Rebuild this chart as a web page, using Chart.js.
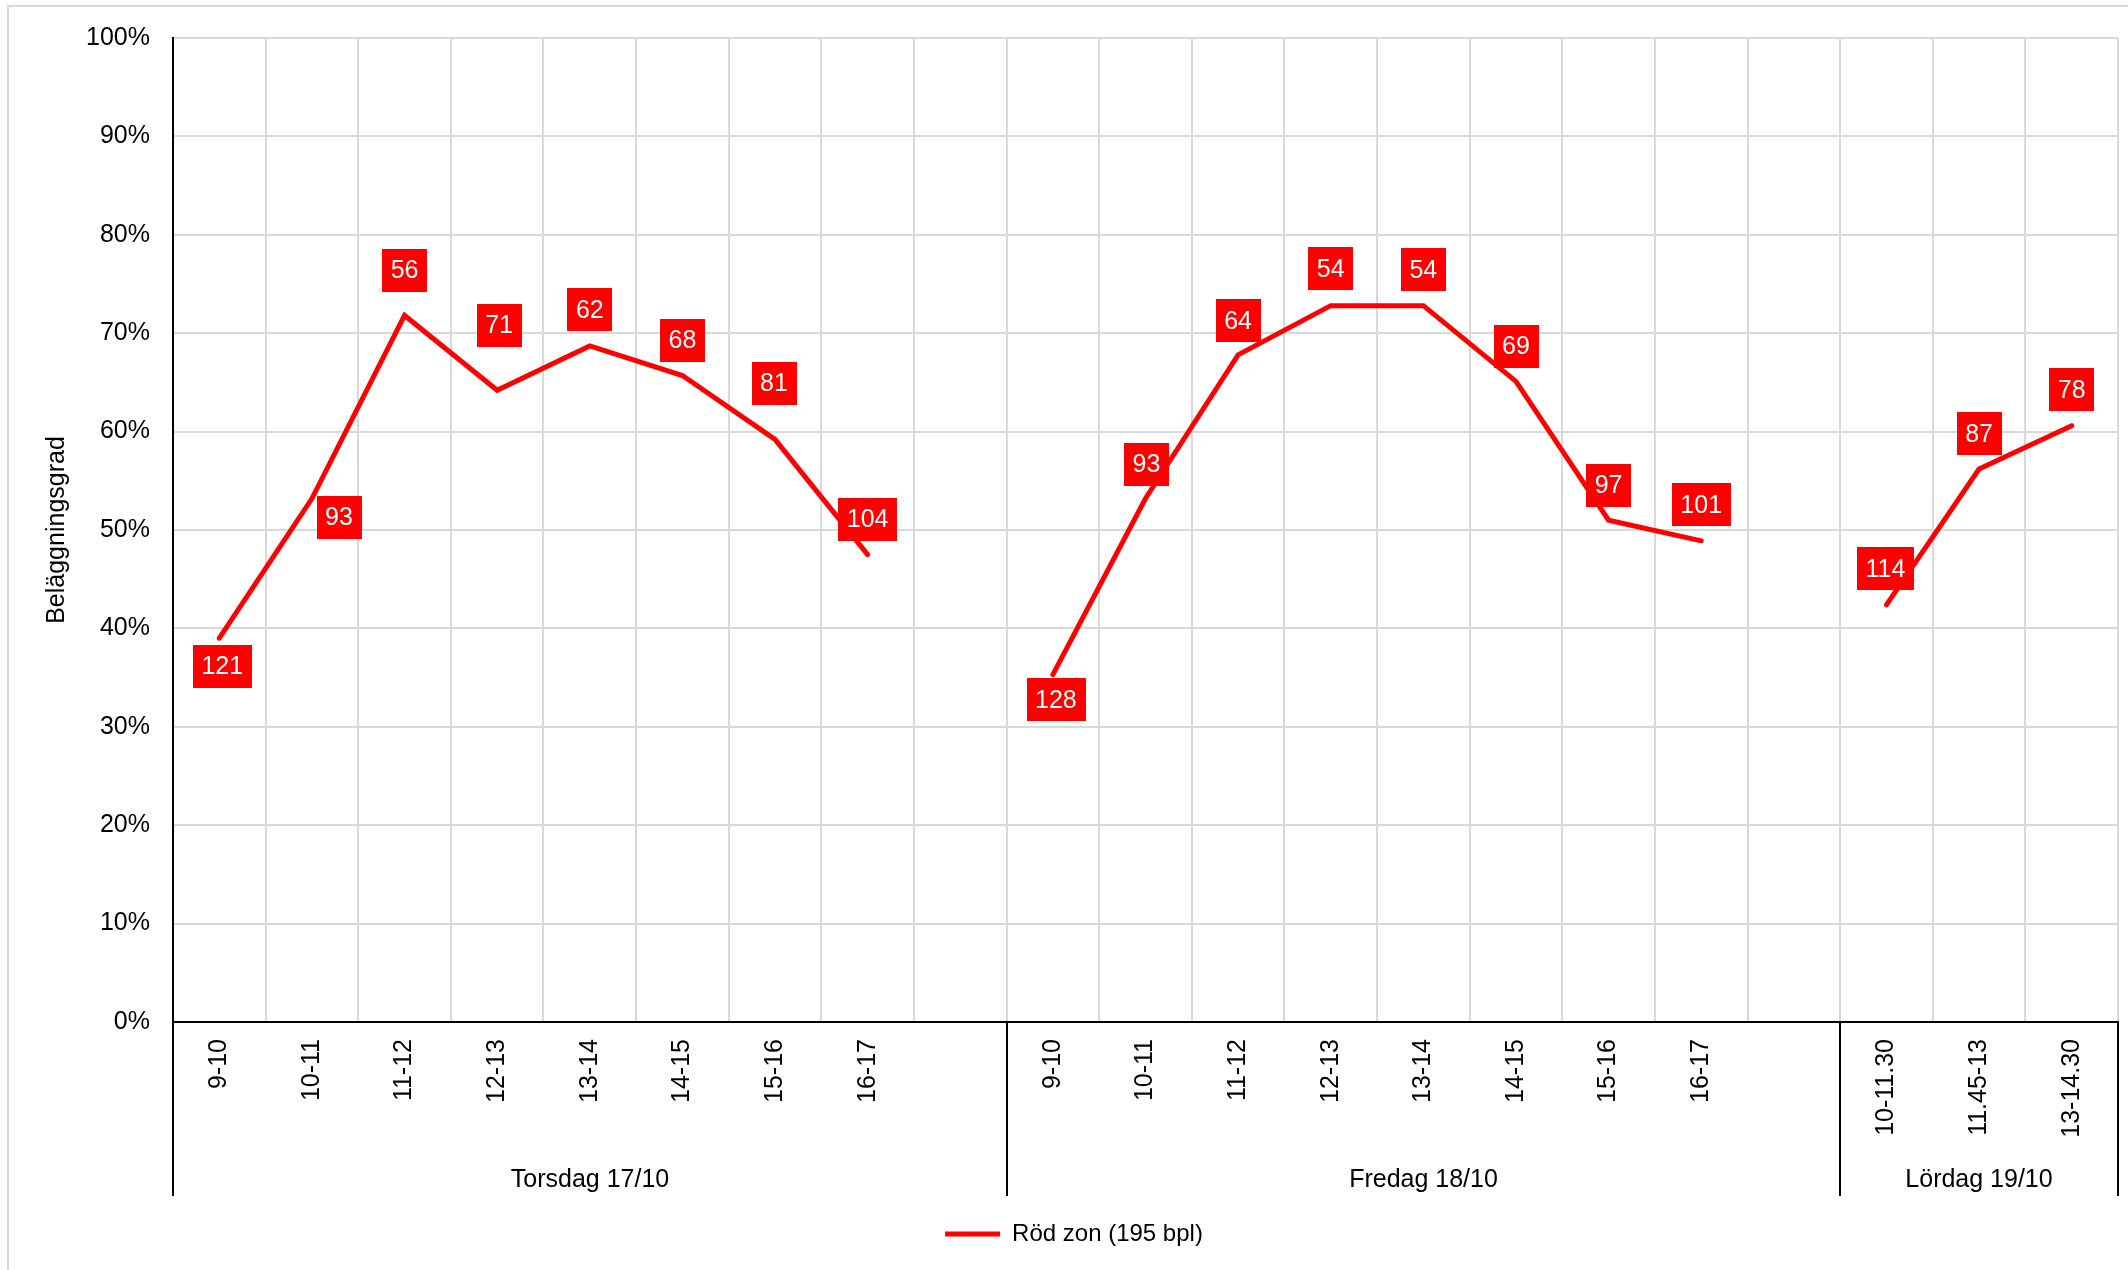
<!DOCTYPE html>
<html>
<head>
<meta charset="utf-8">
<script src="https://cdn.jsdelivr.net/npm/chart.js@4.4.1/dist/chart.umd.min.js"></script>
<style>
  html, body { margin: 0; padding: 0; background: #fff; }
  canvas { display: block; }
</style>
</head>
<body>
<canvas id="c" width="2128" height="1270"></canvas>
<script>
// ---- Data ----
const categories = [
  '9-10', '10-11', '11-12', '12-13', '13-14', '14-15', '15-16', '16-17', '',
  '9-10', '10-11', '11-12', '12-13', '13-14', '14-15', '15-16', '16-17', '',
  '10-11.30', '11.45-13', '13-14.30'
];
const dayGroups = ['Torsdag 17/10', 'Fredag 18/10', 'Lördag 19/10'];
const daySizes = [9, 9, 3];
// Occupancy (%) per time slot
const occupancy = [
  39.0, 53.2, 71.8, 64.2, 68.7, 65.7, 59.2, 47.5, null,
  35.3, 53.2, 67.8, 72.8, 72.8, 65.1, 51.0, 48.9, null,
  42.4, 56.2, 60.6
];
// Data-label numbers shown in the red boxes
const freeSpots = [
  121, 93, 56, 71, 62, 68, 81, 104, null,
  128, 93, 64, 54, 54, 69, 97, 101, null,
  114, 87, 78
];
const seriesName = 'Röd zon (195 bpl)';
const yTickValues = [0, 10, 20, 30, 40, 50, 60, 70, 80, 90, 100];

// ---- Label placement (styling, relative to each point) ----
const labelShift = [
  [3, 28], [27, 19], [0, -45], [2, -65], [0, -36], [0, -35], [-1, -56], [0, -35], null,
  [3, 25], [1, -34], [0, -34], [0, -37], [0, -36], [0, -35], [0, -35], [0, -36], null,
  [-1, -36], [0, -35], [0, -36]
];

const FONT = '"Liberation Sans", Arial, sans-serif';
Chart.defaults.font.family = FONT;
Chart.defaults.color = '#000';

const frame = {
  id: 'frame',
  beforeDraw(chart) {
    const ctx = chart.ctx;
    ctx.save();
    ctx.fillStyle = '#fff';
    ctx.fillRect(0, 0, chart.width, chart.height);
    ctx.strokeStyle = '#d9d9d9';
    ctx.lineWidth = 2;
    ctx.strokeRect(8, 6, chart.width + 20, chart.height + 20);
    ctx.restore();
  }
};

const boxLabels = {
  id: 'boxLabels',
  afterDatasetsDraw(chart) {
    const ctx = chart.ctx;
    const meta = chart.getDatasetMeta(0);
    ctx.save();
    ctx.font = '25px ' + FONT;
    ctx.textAlign = 'center';
    ctx.textBaseline = 'middle';
    meta.data.forEach((pt, i) => {
      if (freeSpots[i] == null || occupancy[i] == null) return;
      const s = labelShift[i] || [0, -35];
      const cx = pt.x + s[0], cy = pt.y + s[1];
      const txt = String(freeSpots[i]);
      const w = ctx.measureText(txt).width + 17;
      const h = 43;
      ctx.fillStyle = '#FF0000';
      ctx.fillRect(Math.round(cx - w / 2), Math.round(cy - h / 2), Math.round(w), h);
      ctx.fillStyle = '#FFFFFF';
      ctx.fillText(txt, cx, cy + 1);
    });
    ctx.restore();
  }
};

const groupAxis = {
  id: 'groupAxis',
  afterDraw(chart) {
    const ctx = chart.ctx;
    const xs = chart.scales.x;
    const top = xs.top, bottom = xs.bottom;
    ctx.save();
    ctx.strokeStyle = '#000';
    ctx.lineWidth = 2;
    ctx.fillStyle = '#000';
    ctx.font = '25px ' + FONT;
    ctx.textAlign = 'center';
    ctx.textBaseline = 'alphabetic';
    let start = 0;
    const boundary = (v) => Math.round(xs.getPixelForValue(v - 0.5));
    ctx.beginPath();
    ctx.moveTo(boundary(0), top);
    ctx.lineTo(boundary(0), bottom);
    ctx.stroke();
    dayGroups.forEach((name, g) => {
      const end = start + daySizes[g];
      const x0 = boundary(start), x1 = boundary(end);
      ctx.beginPath();
      ctx.moveTo(x1, top);
      ctx.lineTo(x1, bottom);
      ctx.stroke();
      ctx.fillText(name, (x0 + x1) / 2, bottom - 9);
      start = end;
    });
    ctx.restore();
  }
};

new Chart(document.getElementById('c'), {
  type: 'line',
  data: {
    labels: categories,
    datasets: [{
      label: seriesName,
      data: occupancy,
      borderColor: '#FF0000',
      backgroundColor: '#FF0000',
      borderWidth: 5,
      borderCapStyle: 'round',
      borderJoinStyle: 'miter',
      pointRadius: 0,
      pointHoverRadius: 0,
      spanGaps: false,
      tension: 0,
      fill: false
    }]
  },
  options: {
    responsive: false,
    animation: false,
    devicePixelRatio: 1,
    layout: { padding: { top: 36, right: 10, bottom: 14, left: 30 } },
    plugins: {
      tooltip: { enabled: false },
      legend: {
        position: 'bottom',
        align: 'center',
        labels: {
          usePointStyle: true,
          pointStyle: 'line',
          pointStyleWidth: 55,
          boxHeight: 24,
          padding: 26,
          color: '#000',
          font: { size: 24, family: FONT }
        }
      }
    },
    scales: {
      x: {
        type: 'category',
        offset: true,
        grid: { offset: true, color: '#d9d9d9', lineWidth: 2, drawTicks: false, z: -1 },
        border: { color: '#000', width: 2 },
        ticks: {
          autoSkip: false,
          minRotation: 90,
          maxRotation: 90,
          padding: 17,
          color: '#000',
          font: { size: 25, family: FONT }
        },
        afterFit(scale) { scale.height = 174; }
      },
      y: {
        min: 0,
        max: 100,
        afterBuildTicks(scale) { scale.ticks = yTickValues.map(v => ({ value: v })); },
        grid: { color: '#d9d9d9', lineWidth: 2, drawTicks: false, z: -1 },
        border: { color: '#000', width: 2 },
        ticks: {
          padding: 23,
          color: '#000',
          font: { size: 25, family: FONT },
          callback: (v) => v + '%'
        },
        title: {
          display: true,
          text: 'Beläggningsgrad',
          color: '#000',
          font: { size: 25, family: FONT },
          padding: { top: 12, bottom: 0 }
        },
        afterFit(scale) { scale.width = 143; }
      }
    }
  },
  plugins: [frame, boxLabels, groupAxis]
});
</script>
</body>
</html>
